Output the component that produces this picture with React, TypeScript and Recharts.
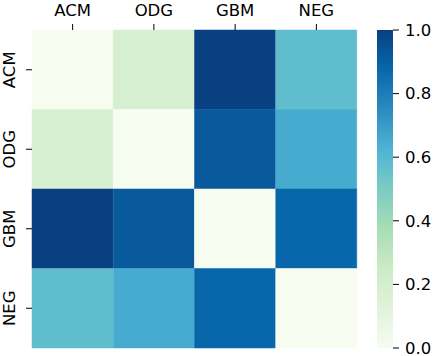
import { BarChart, Bar, XAxis, YAxis, Cell } from 'recharts'

const labels = ['ACM', 'ODG', 'GBM', 'NEG']

// similarity matrix, row by row (symmetric)
const rowACM = [0, 0.18, 1.0, 0.575]
const rowODG = [0.18, 0, 0.92, 0.65]
const rowGBM = [1.0, 0.92, 0, 0.88]
const rowNEG = [0.575, 0.65, 0.88, 0]
const matrix = [rowACM, rowODG, rowGBM, rowNEG]

const cbarTicks = [0, 0.2, 0.4, 0.6, 0.8, 1.0]
const cbarMax = 1

const GNBU = ['#f7fcf0', '#e0f3db', '#ccebc5', '#a8ddb5', '#7bccc4', '#4eb3d3', '#2b8cbe', '#0868ac', '#084081']

const hexToRgb = (h: string) => [1, 3, 5].map((i) => parseInt(h.slice(i, i + 2), 16))

function gnbu(t: number) {
  const p = Math.max(0, Math.min(1, t)) * (GNBU.length - 1)
  const i = Math.min(Math.floor(p), GNBU.length - 2)
  const f = p - i
  const a = hexToRgb(GNBU[i])
  const b = hexToRgb(GNBU[i + 1])
  const c = a.map((v, k) => Math.round(v + (b[k] - v) * f))
  return `rgb(${c[0]},${c[1]},${c[2]})`
}

const FONT = '"DejaVu Sans", sans-serif'
const FS = 16.5

// one entry per column, each row is a unit-high stacked segment
const heatData = labels.map((name) => {
  const d: Record<string, string | number> = { name }
  labels.forEach((_, r) => {
    d[`r${r}`] = 1
  })
  return d
})

const rowTicks = labels.map((_, i) => i + 0.5)

function RowTick(props: any) {
  const { y, payload } = props
  const label = labels[Math.floor(payload.value)]
  return (
    <text
      x={15}
      y={y}
      transform={`rotate(-90 15 ${y})`}
      textAnchor="middle"
      fontSize={FS}
      fontFamily={FONT}
      fill="#000"
    >
      {label}
    </text>
  )
}

export default function App() {
  return (
    <div style={{ position: 'absolute', left: 0, top: 0, width: 434, height: 356, background: '#fff' }}>
      <div style={{ position: 'absolute', left: 0, top: 0 }}>
        <BarChart
          width={365}
          height={356}
          data={heatData}
          margin={{ top: 0, right: 8, bottom: 8, left: 0 }}
          barCategoryGap={0}
          barGap={0}
        >
          <XAxis
            dataKey="name"
            orientation="top"
            height={30}
            interval={0}
            axisLine={false}
            tickSize={6}
            tickMargin={8}
            tickLine={{ stroke: '#000' }}
            tick={{ fill: '#000', fontSize: FS, fontFamily: FONT }}
          />
          <YAxis
            type="number"
            domain={[0, labels.length]}
            reversed
            ticks={rowTicks}
            interval={0}
            width={32}
            axisLine={false}
            tickSize={6}
            tickLine={{ stroke: '#000' }}
            tick={<RowTick />}
          />
          {labels.map((_, r) => (
            <Bar key={r} dataKey={`r${r}`} stackId="m" isAnimationActive={false}>
              {labels.map((__, c) => (
                <Cell key={c} fill={gnbu(matrix[r][c])} stroke={gnbu(matrix[r][c])} strokeWidth={0.5} />
              ))}
            </Bar>
          ))}
        </BarChart>
      </div>
      <div style={{ position: 'absolute', left: 0, top: 0 }}>
        <BarChart
          width={434}
          height={356}
          data={[{ v: cbarMax }]}
          margin={{ top: 30, right: 0, bottom: 8, left: 377 }}
          barCategoryGap={0}
        >
          <defs>
            <linearGradient id="cbar" x1="0" y1="1" x2="0" y2="0">
              {GNBU.map((c, i) => (
                <stop key={i} offset={`${(i / (GNBU.length - 1)) * 100}%`} stopColor={c} />
              ))}
            </linearGradient>
          </defs>
          <XAxis hide />
          <YAxis
            orientation="right"
            type="number"
            domain={[0, cbarMax]}
            ticks={cbarTicks}
            interval={0}
            tickFormatter={(v: number) => v.toFixed(1)}
            width={41}
            axisLine={false}
            tickSize={6}
            tickMargin={6}
            tickLine={{ stroke: '#000' }}
            tick={{ fill: '#000', fontSize: FS, fontFamily: FONT }}
          />
          <Bar dataKey="v" fill="url(#cbar)" isAnimationActive={false} />
        </BarChart>
      </div>
    </div>
  )
}
